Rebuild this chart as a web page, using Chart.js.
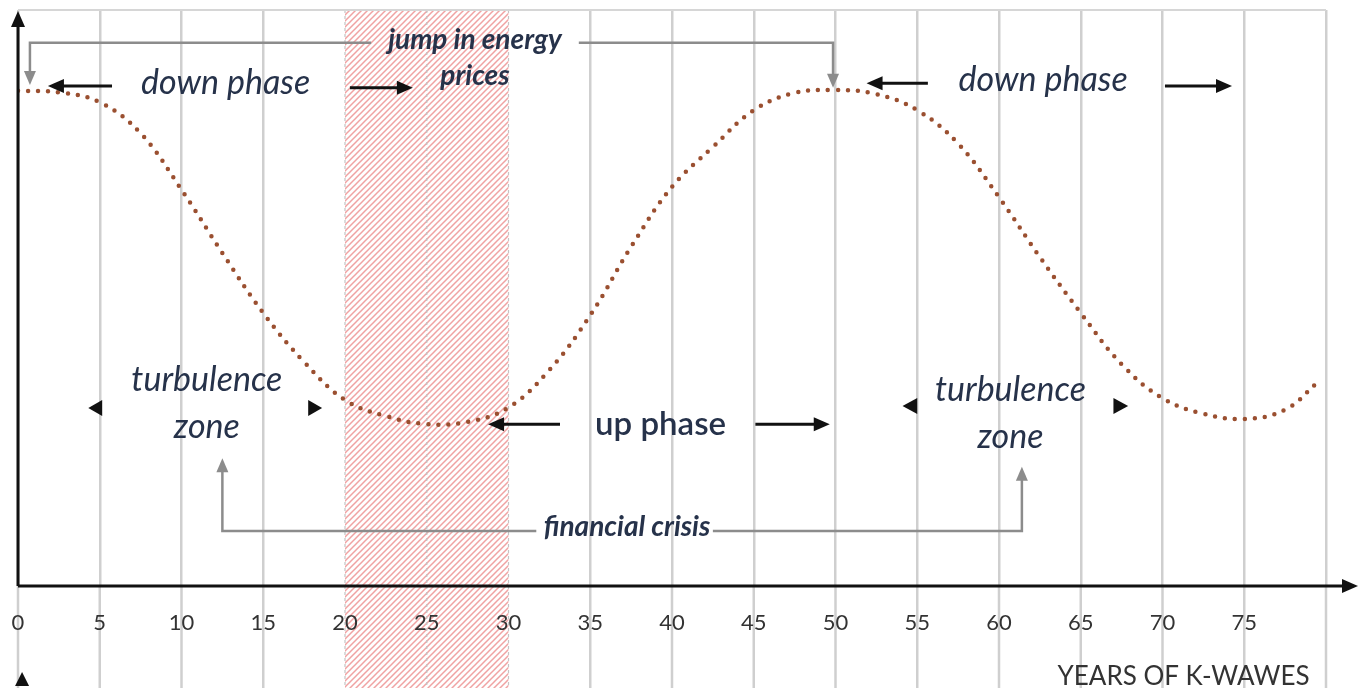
<!DOCTYPE html>
<html>
<head>
<meta charset="utf-8">
<script src="https://cdn.jsdelivr.net/npm/chart.js@4/dist/chart.umd.min.js"></script>
<style>
html, body { margin: 0; padding: 0; background: #fff; }
#wave { display: block; }
</style>
</head>
<body>
<canvas id="wave" width="1359" height="688"></canvas>
<script>
// K-wave curve
var years = [0, 2.5, 5, 7.5, 10, 12.5, 15, 17.5, 20, 22.5, 25, 27.5, 30, 32.5, 35, 37.5, 40,
	42.5, 45, 47.5, 50, 52.5, 55, 57.5, 60, 62.5, 65, 67.5, 70, 72.5, 75, 77.5, 79.5];
var waveValues = [86.0, 85.7, 84.0, 78.6, 68.8, 57.8, 47.4, 38.9, 32.3, 29.5, 28.1, 28.5, 31.0, 37.5, 47.0, 58.9, 69.3,
	76.2, 82.6, 85.6, 86.1, 85.4, 82.6, 76.8, 67.5, 57.1, 47.4, 38.5, 32.6, 29.9, 29.0, 30.6, 35.4];
var xTickLabels = ['0', '5', '10', '15', '20', '25', '30', '35', '40', '45', '50', '55', '60', '65', '70', '75'];
var crisisBand = [20, 30];

var textColor = '#26324a';
var italicFont = 'italic 34px Lato';
var noteFont = 'italic bold 28px Lato';

// annotations, in data units
var texts = [
	{ t: 'jump in energy', x: 27.95, y: 94.8, font: noteFont },
	{ t: 'prices', x: 27.95, y: 88.5, font: noteFont },
	{ t: 'down phase', x: 12.7, y: 87.3, font: italicFont },
	{ t: 'down phase', x: 62.7, y: 87.8, font: italicFont },
	{ t: 'turbulence', x: 11.55, y: 35.8, font: italicFont },
	{ t: 'zone', x: 11.55, y: 27.6, font: italicFont },
	{ t: 'turbulence', x: 60.7, y: 34.0, font: italicFont },
	{ t: 'zone', x: 60.7, y: 25.9, font: italicFont },
	{ t: 'up phase', x: 39.3, y: 28.0, font: '600 33px Lato' },
	{ t: 'financial crisis', x: 37.25, y: 10.2, font: noteFont }
];
var grayLinks = [
	[[21.6, 94.3], [0.73, 94.3], [0.73, 87.0]],
	[[34.3, 94.3], [49.85, 94.3], [49.85, 86.5]],
	[[31.7, 9.55], [12.5, 9.55], [12.5, 22.2]],
	[[42.5, 9.55], [61.4, 9.55], [61.4, 20.7]]
];
var blackArrows = [
	[[5.75, 86.8], [1.83, 86.8]],
	[[20.3, 86.5], [24.15, 86.5]],
	[[55.65, 87.3], [51.9, 87.3]],
	[[70.15, 86.8], [74.25, 86.8]],
	[[33.15, 28.1], [28.75, 28.1]],
	[[45.1, 28.1], [49.65, 28.1]]
];
var triangles = [
	[[5.15, 30.9], [4.3, 30.9]],
	[[17.75, 30.9], [18.6, 30.9]],
	[[55.0, 31.25], [54.1, 31.25]],
	[[67.0, 31.25], [67.9, 31.25]]
];

function head(ctx, x1, y1, x2, y2, len, half, color) {
	var a = Math.atan2(y2 - y1, x2 - x1);
	ctx.save();
	ctx.fillStyle = color;
	ctx.translate(x2, y2);
	ctx.rotate(a);
	ctx.beginPath();
	ctx.moveTo(0, 0);
	ctx.lineTo(-len, -half);
	ctx.lineTo(-len, half);
	ctx.closePath();
	ctx.fill();
	ctx.restore();
}

function polyArrow(ctx, pts, color, width, len, half) {
	var n = pts.length;
	var a = Math.atan2(pts[n - 1][1] - pts[n - 2][1], pts[n - 1][0] - pts[n - 2][0]);
	ctx.save();
	ctx.strokeStyle = color;
	ctx.lineWidth = width;
	ctx.beginPath();
	ctx.moveTo(pts[0][0], pts[0][1]);
	for (var i = 1; i < n - 1; i++) ctx.lineTo(pts[i][0], pts[i][1]);
	ctx.lineTo(pts[n - 1][0] - Math.cos(a) * len * 0.8, pts[n - 1][1] - Math.sin(a) * len * 0.8);
	ctx.stroke();
	ctx.restore();
	head(ctx, pts[n - 2][0], pts[n - 2][1], pts[n - 1][0], pts[n - 1][1], len, half, color);
}

function hatchPattern(ctx) {
	var c = document.createElement('canvas');
	c.width = 6; c.height = 6;
	var p = c.getContext('2d');
	p.strokeStyle = '#f0a3a3';
	p.lineWidth = 1.5;
	p.beginPath();
	p.moveTo(-1, 7); p.lineTo(7, -1);
	p.moveTo(-4, 4); p.lineTo(4, -4);
	p.moveTo(2, 10); p.lineTo(10, 2);
	p.stroke();
	return ctx.createPattern(c, 'repeat');
}

var kwavePlugin = {
	id: 'kwave',
	// drawn first, so the scale labels and the curve sit on top
	beforeDraw: function(chart) {
		var ctx = chart.ctx, xs = chart.scales.x, area = chart.chartArea;
		var H = chart.height;
		ctx.save();
		ctx.strokeStyle = '#cfcfcf';
		ctx.lineWidth = 2.5;
		for (var v = 0; v <= 80; v += 5) {
			if (v >= crisisBand[0] && v <= crisisBand[1]) continue;
			var px = xs.getPixelForValue(v);
			ctx.beginPath();
			ctx.moveTo(px, area.bottom);
			ctx.lineTo(px, H);
			ctx.stroke();
		}
		// hatched band
		var x1 = xs.getPixelForValue(crisisBand[0]), x2 = xs.getPixelForValue(crisisBand[1]);
		ctx.fillStyle = hatchPattern(ctx);
		ctx.fillRect(x1, area.top, x2 - x1, H - area.top);
		ctx.strokeStyle = '#c4c4c4';
		ctx.lineWidth = 1.2;
		ctx.setLineDash([3, 3]);
		[x1, (x1 + x2) / 2, x2].forEach(function(px) {
			ctx.beginPath();
			ctx.moveTo(px, area.top);
			ctx.lineTo(px, H);
			ctx.stroke();
		});
		ctx.restore();
	},
	afterDraw: function(chart) {
		var ctx = chart.ctx, xs = chart.scales.x, ys = chart.scales.y, area = chart.chartArea;
		var X = function(v) { return xs.getPixelForValue(v); };
		var Y = function(v) { return ys.getPixelForValue(v); };
		var P = function(pt) { return [X(pt[0]), Y(pt[1])]; };

		// axes with arrows
		polyArrow(ctx, [[area.left, area.bottom], [area.left, area.top + 1]], '#111', 3, 16, 7);
		polyArrow(ctx, [[area.left, area.bottom], [chart.width - 1, area.bottom]], '#111', 3, 16, 7);
		// small arrowhead at lower left
		head(ctx, X(0.25), chart.height, X(0.25), chart.height - 16, 14, 7, '#111');

		grayLinks.forEach(function(l) { polyArrow(ctx, l.map(P), '#8c8c8c', 2.5, 14, 6); });
		blackArrows.forEach(function(l) { polyArrow(ctx, l.map(P), '#111', 3, 16, 7); });
		triangles.forEach(function(l) {
			var a = P(l[0]), b = P(l[1]);
			head(ctx, a[0], a[1], b[0], b[1], Math.abs(b[0] - a[0]), 8, '#111');
		});

		ctx.save();
		ctx.textAlign = 'center';
		ctx.textBaseline = 'middle';
		ctx.fillStyle = textColor;
		texts.forEach(function(o) {
			ctx.font = o.font;
			ctx.fillText(o.t, X(o.x), Y(o.y));
		});
		ctx.font = '26px Lato';
		ctx.fillStyle = '#333';
		ctx.textAlign = 'right';
		ctx.fillText('YEARS OF K-WAWES', X(79), chart.height - 11);
		ctx.restore();
	}
};

var config = {
	type: 'line',
	data: {
		datasets: [{
			label: 'K-wave',
			data: years.map(function(y, i) { return { x: y, y: waveValues[i] }; }),
			borderColor: '#9a4f30',
			borderWidth: 4.5,
			borderCapStyle: 'round',
			borderDash: [0, 10],
			pointRadius: 0,
			fill: false,
			tension: 0.4
		}]
	},
	options: {
		responsive: false,
		animation: false,
		layout: { padding: { top: 10, right: 33, left: 0, bottom: 0 } },
		plugins: {
			legend: { display: false },
			tooltip: { enabled: false }
		},
		scales: {
			x: {
				type: 'linear',
				min: 0,
				max: 80,
				afterFit: function(s) { s.height = 102; },
				border: { display: false },
				grid: {
					lineWidth: 2.5,
					drawTicks: true,
					tickLength: 24,
					tickColor: 'transparent',
					color: function(c) {
						var v = c.tick ? c.tick.value : -1;
						return v >= crisisBand[0] && v <= crisisBand[1] ? 'transparent' : '#cfcfcf';
					}
				},
				ticks: {
					stepSize: 5,
					padding: 0,
					color: '#333',
					font: { family: 'Lato', size: 22 },
					maxRotation: 0,
					autoSkip: false,
					callback: function(v) {
						return xTickLabels[v / 5] !== undefined ? xTickLabels[v / 5] : '';
					}
				}
			},
			y: {
				min: 0,
				max: 100,
				afterFit: function(s) { s.width = 18; },
				border: { display: false },
				grid: {
					drawTicks: false,
					lineWidth: 2,
					color: function(c) { return c.tick && c.tick.value === 100 ? '#d6d6d6' : 'transparent'; }
				},
				ticks: { display: false, stepSize: 100 }
			}
		}
	},
	plugins: [kwavePlugin]
};

window.onload = function() {
	window.kwaveChart = new Chart(document.getElementById('wave'), config);
};
</script>
</body>
</html>
